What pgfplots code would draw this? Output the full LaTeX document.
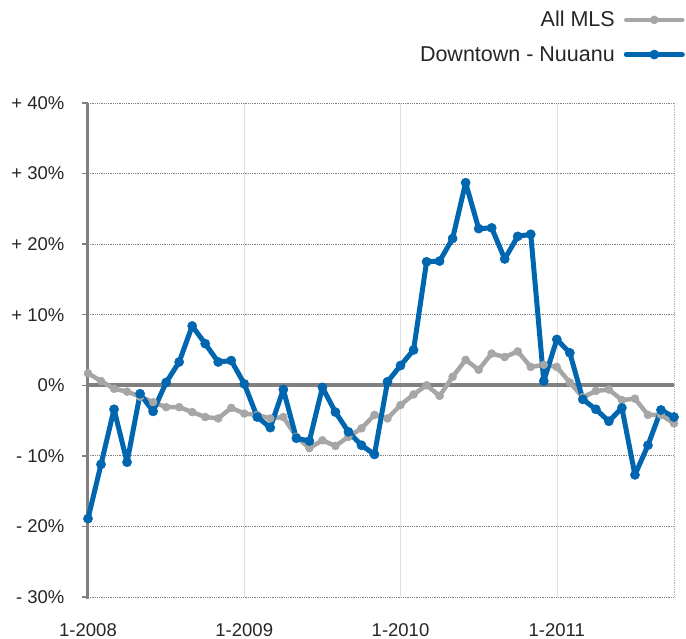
\documentclass[border=0pt]{standalone}
\usepackage{fontspec}
\setmainfont{Liberation Sans}
\usepackage{pgfplots}
\pgfplotsset{compat=1.18}
\definecolor{dtblue}{RGB}{0,102,176}
\definecolor{mlsgray}{RGB}{166,166,166}
\definecolor{axgray}{RGB}{128,128,128}

\begin{document}
\begin{tikzpicture}
\path[use as bounding box] (-88pt,-42pt) rectangle (598pt,597pt);
\begin{axis}[
  scale only axis, width=586pt, height=494pt,
  xmin=0, xmax=45, ymin=-30, ymax=40,
  xtick={0,12,24,36}, xticklabels={1-2008,1-2009,1-2010,1-2011},
  ytick={-30,-20,...,40},
  yticklabels={- 30\%,- 20\%,- 10\%,0\%,+ 10\%,+ 20\%,+ 30\%,+ 40\%},
  tick label style={font=\fontsize{18.5}{22}\selectfont, text=black!85},
  /pgf/number format/assume math mode=true,
  tick pos=left, tick align=outside, major tick length=6pt,
  ytick style={draw=axgray, line width=1.5pt},
  xtick style={draw=none},
  yticklabel style={xshift=-14pt},
  xticklabel style={yshift=-17pt},
  axis line style={draw=none},
  xmajorgrids, ymajorgrids,
  x grid style={black!12, line width=0.6pt},
  y grid style={axgray, line width=0.9pt, dash pattern=on 0.9pt off 0.9pt},
  clip=false,
  legend cell align=right,
  legend plot pos=right,
  legend image code/.code={\draw[mark repeat=2,mark phase=2,#1] plot coordinates {(0pt,0pt) (28pt,0pt) (56pt,0pt)};},
  legend style={at={(1.0188,1.19)}, anchor=north east, draw=none, fill=none,
    inner sep=0pt, row sep=14pt, column sep=7pt,
    font=\fontsize{21.5}{26}\selectfont, text=black!85,
    nodes={inner sep=2pt}},
]
\draw[axgray, line width=3pt] (rel axis cs:0,-0.005) -- (rel axis cs:0,1);
\draw[axgray!60, line width=0.9pt, dash pattern=on 0.9pt off 0.9pt] (rel axis cs:1,0) -- (rel axis cs:1,1);
\draw[axgray, line width=4pt] (axis cs:0,0) -- (axis cs:45,0);

\addplot[mlsgray, line width=4.5pt, line join=round, line cap=round, mark=*, mark size=4pt, mark options={line width=0.5pt}] coordinates {
(0,1.7) (1,0.6) (2,-0.5) (3,-0.9) (4,-1.6) (5,-2.4) (6,-3.1) (7,-3.1) (8,-3.8) (9,-4.5)
(10,-4.7) (11,-3.2) (12,-4.0) (13,-4.2) (14,-4.7) (15,-4.5) (16,-7.3) (17,-8.9) (18,-7.8) (19,-8.6)
(20,-7.3) (21,-6.1) (22,-4.2) (23,-4.7) (24,-2.8) (25,-1.3) (26,0.0) (27,-1.5) (28,1.2) (29,3.6)
(30,2.2) (31,4.5) (32,4.0) (33,4.8) (34,2.6) (35,2.9) (36,2.6) (37,0.4) (38,-1.7) (39,-0.8)
(40,-0.6) (41,-2.1) (42,-1.9) (43,-4.2) (44,-4.2) (45,-5.4)
};
\addlegendentry{All MLS}

\addplot[dtblue, line width=5pt, line join=round, line cap=round, mark=*, mark size=4.6pt, mark options={line width=0.5pt}] coordinates {
(0,-18.9) (1,-11.2) (2,-3.4) (3,-10.9) (4,-1.2) (5,-3.7) (6,0.4) (7,3.3) (8,8.4) (9,5.9)
(10,3.3) (11,3.5) (12,0.2) (13,-4.5) (14,-6.0) (15,-0.6) (16,-7.5) (17,-7.9) (18,-0.3) (19,-3.8)
(20,-6.6) (21,-8.5) (22,-9.8) (23,0.5) (24,2.8) (25,5.0) (26,17.5) (27,17.6) (28,20.8) (29,28.7)
(30,22.2) (31,22.3) (32,17.9) (33,21.1) (34,21.4) (35,0.6) (36,6.5) (37,4.6) (38,-2.0) (39,-3.4)
(40,-5.1) (41,-3.2) (42,-12.7) (43,-8.5) (44,-3.5) (45,-4.5)
};
\addlegendentry{Downtown - Nuuanu}
\end{axis}
\end{tikzpicture}
\end{document}
